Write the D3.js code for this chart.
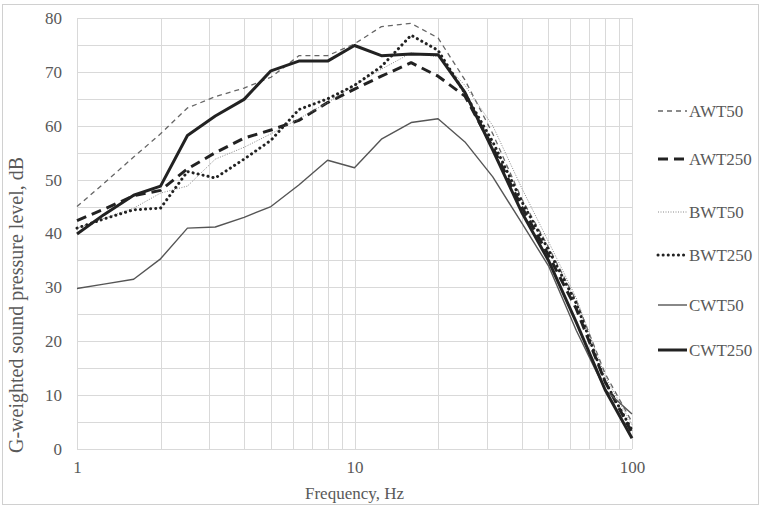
<!DOCTYPE html>
<html>
<head>
<meta charset="utf-8">
<script src="https://cdn.jsdelivr.net/npm/d3@7"></script>
<style>
  body { margin: 0; background: #fff; }
  text { font-family: "Liberation Serif", "Times New Roman", serif; fill: #595959; }
</style>
</head>
<body>
<div id="chart"></div>
<script>
// 1/3-octave band centre frequencies, Hz
var freq = [1, 1.25, 1.6, 2, 2.5, 3.15, 4, 5, 6.3, 8, 10, 12.5, 16, 20, 25, 31.5, 40, 50, 63, 80, 100];

var awt50  = [45, 49.3, 54.2, 58.5, 63.3, 65.4, 67, 69, 73, 73, 75.2, 78.4, 79, 76.3, 68.5, 58.5, 46.5, 37.5, 27.5, 14, 5];
var awt250 = [42.4, 44.5, 47, 48, 52, 55, 57.7, 59.2, 61, 64.3, 66.8, 69.2, 71.7, 69.2, 65.5, 56, 45, 36, 26, 12.5, 3];
var bwt50  = [41, 42.8, 44.7, 47.5, 48.8, 53.8, 56, 58.5, 61.3, 64.3, 67.5, 70.5, 73.5, 72.8, 67.5, 60, 48.5, 38.5, 28, 13.5, 4.5];
var bwt250 = [41, 42.7, 44.4, 44.7, 51.5, 50.3, 53.8, 57.3, 63, 65, 67.5, 71, 76.8, 74, 66, 57, 46, 37, 27, 12.5, 3.5];
var cwt50  = [29.8, 30.6, 31.5, 35.3, 41, 41.2, 43, 45, 49, 53.6, 52.2, 57.5, 60.6, 61.3, 57, 50.5, 42, 34, 22, 11, 6.5];
var cwt250 = [39.9, 43.5, 47.1, 48.8, 58.2, 61.8, 64.9, 70.2, 72, 72, 74.9, 73, 73.3, 73.2, 66.2, 55.5, 44, 35, 23.5, 11, 2];

var seriesNames = ["AWT50", "AWT250", "BWT50", "BWT250", "CWT50", "CWT250"];
var yTicks = [0, 10, 20, 30, 40, 50, 60, 70, 80];
var xTicks = [1, 10, 100];

var width = 762, height = 506;
var margin = {top: 18, right: 130, bottom: 57, left: 77};

var series = [
  {name: seriesNames[0], values: awt50,  color: "#666", w: 1.3, dash: "5,4",   cap: "butt"},
  {name: seriesNames[1], values: awt250, color: "#222", w: 3,   dash: "10,6",  cap: "butt"},
  {name: seriesNames[2], values: bwt50,  color: "#888", w: 1,   dash: "1,1.5", cap: "butt"},
  {name: seriesNames[3], values: bwt250, color: "#222", w: 3,   dash: "0.1,5", cap: "round"},
  {name: seriesNames[4], values: cwt50,  color: "#555", w: 1.4, dash: null,    cap: "butt"},
  {name: seriesNames[5], values: cwt250, color: "#222", w: 3,   dash: null,    cap: "butt"}
];

var svg = d3.select("#chart").append("svg")
    .attr("width", width)
    .attr("height", height);

// outer frame
svg.append("rect")
    .attr("x", 2.5).attr("y", 4.5)
    .attr("width", 756).attr("height", 500)
    .attr("fill", "none")
    .attr("stroke", "#d0d0d0");

var x = d3.scaleLog()
    .domain([1, 100])
    .range([margin.left, width - margin.right]);

var y = d3.scaleLinear()
    .domain([0, 80])
    .range([height - margin.bottom, margin.top]);

// grid
var grid = svg.append("g").attr("stroke", "#d9d9d9").attr("stroke-width", 1);
grid.selectAll("line.v")
    .data(x.ticks())
    .enter().append("line")
    .attr("class", "v")
    .attr("x1", function(d) { return Math.round(x(d)) + 0.5; })
    .attr("x2", function(d) { return Math.round(x(d)) + 0.5; })
    .attr("y1", y(0))
    .attr("y2", y(80));
grid.selectAll("line.h")
    .data(d3.range(0, 81, 5))
    .enter().append("line")
    .attr("class", "h")
    .attr("x1", x(1))
    .attr("x2", x(100))
    .attr("y1", function(d) { return Math.round(y(d)) + 0.5; })
    .attr("y2", function(d) { return Math.round(y(d)) + 0.5; });

// axes
var yAxis = svg.append("g")
    .attr("transform", "translate(" + margin.left + ",0)")
    .call(d3.axisLeft(y).tickValues(yTicks).tickSize(0).tickPadding(15));
yAxis.select(".domain").remove();
yAxis.selectAll("text").style("font-size", "17px").attr("fill", "#595959");

var xAxis = svg.append("g")
    .attr("transform", "translate(0," + y(0) + ")")
    .call(d3.axisBottom(x).tickValues(xTicks).tickFormat(d3.format("d")).tickSize(0).tickPadding(12));
xAxis.select(".domain").remove();
xAxis.selectAll("text").style("font-size", "17px").attr("fill", "#595959");

// axis titles
svg.append("text")
    .attr("x", (x(1) + x(100)) / 2)
    .attr("y", 499)
    .attr("text-anchor", "middle")
    .style("font-size", "17px")
    .text("Frequency, Hz");

svg.append("text")
    .attr("transform", "translate(23,305) rotate(-90)")
    .attr("text-anchor", "middle")
    .style("font-size", "20px")
    .text("G-weighted sound pressure level, dB");

// lines
var line = d3.line()
    .x(function(d, i) { return x(freq[i]); })
    .y(function(d) { return y(d); });

svg.append("g").selectAll("path")
    .data(series)
    .enter().append("path")
    .attr("d", function(d) { return line(d.values); })
    .attr("fill", "none")
    .attr("stroke", function(d) { return d.color; })
    .attr("stroke-width", function(d) { return d.w; })
    .attr("stroke-dasharray", function(d) { return d.dash; })
    .attr("stroke-linecap", function(d) { return d.cap; })
    .attr("stroke-linejoin", "round");

// legend
var legendY = [111, 159, 212, 255, 305, 350];
var legend = svg.append("g").selectAll("g")
    .data(series)
    .enter().append("g")
    .attr("transform", function(d, i) { return "translate(658," + legendY[i] + ")"; });

legend.append("line")
    .attr("x1", 0).attr("x2", 29)
    .attr("y1", 0).attr("y2", 0)
    .attr("stroke", function(d) { return d.color; })
    .attr("stroke-width", function(d) { return d.w; })
    .attr("stroke-dasharray", function(d) { return d.dash; })
    .attr("stroke-linecap", function(d) { return d.cap; });

legend.append("text")
    .attr("x", 31)
    .attr("y", 0)
    .attr("dy", "0.35em")
    .style("font-size", "17px")
    .text(function(d) { return d.name; });
</script>
</body>
</html>
